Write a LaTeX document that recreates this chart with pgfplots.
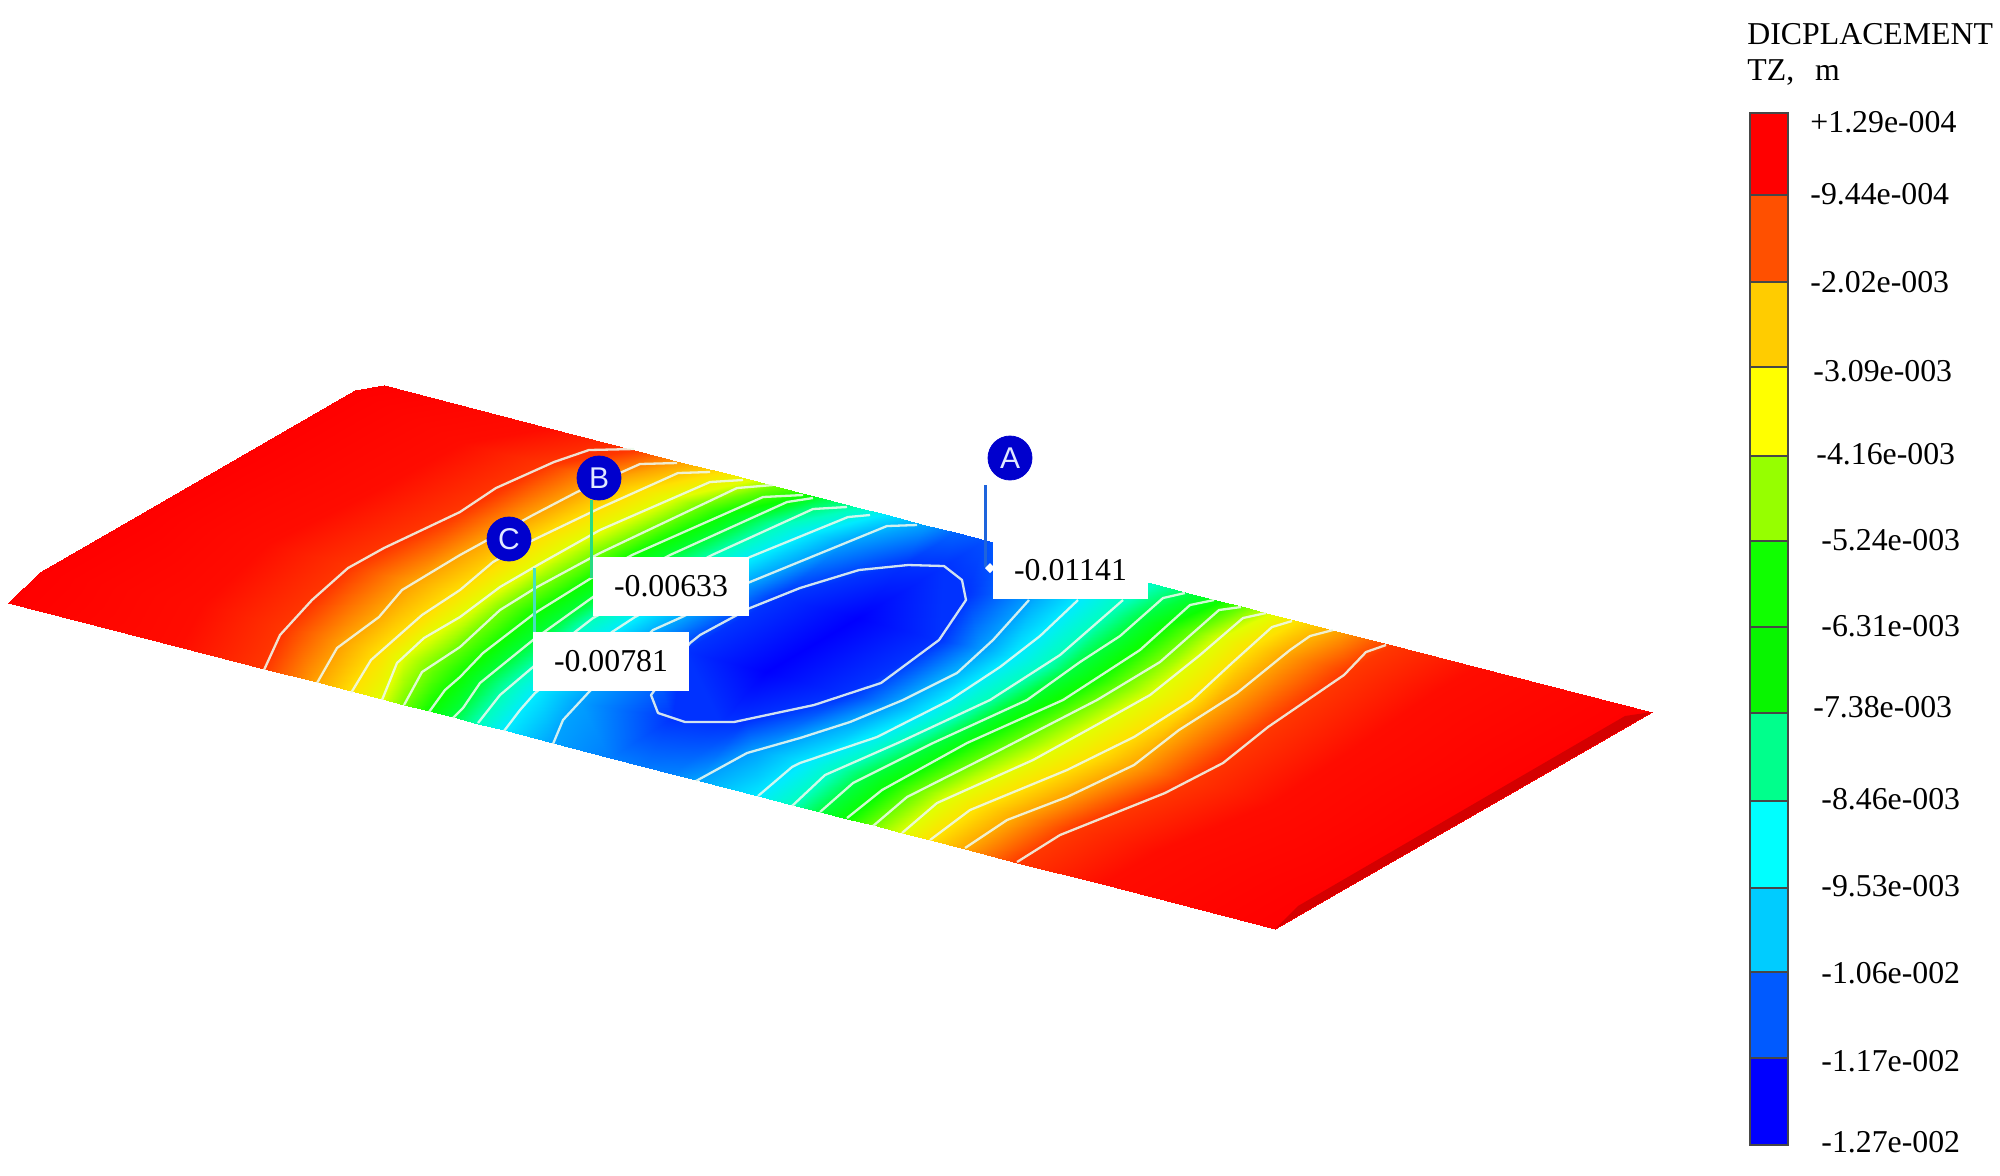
\documentclass[border=0pt]{standalone}
\usepackage{fontspec}
\usepackage{pgfplots}
\usepackage{pgfplotstable}
\pgfplotsset{compat=1.18}
\setmainfont{Liberation Serif}
\newfontfamily\lsans{Liberation Sans}
\newcommand\fs{\fontsize{15.9}{18}\selectfont}
% colour bar band: colour, top, bottom
\newcommand\band[3]{\addplot[fill=#1,draw=black!72,line width=1.1pt] coordinates {(1750,#2)(1788,#2)(1788,#3)(1750,#3)} --cycle;}
\newcommand\barlabel[3]{\node[anchor=west,inner sep=0pt,font=\fs] at (axis cs:#1,#2) {#3};}
\newcommand\callout[5]{%
 \addplot[fill=white,draw=none] coordinates {(#1,#2)(#3,#2)(#3,#4)(#1,#4)} --cycle;
 \node[font=\fs,inner sep=0pt] at (axis cs:{(#1+#3)/2},{(#2+#4)/2}) {#5};}
\definecolor{bevel}{RGB}{212,0,0}
\definecolor{line1}{RGB}{238,250,238}
\definecolor{b1}{RGB}{255,0,0}\definecolor{b2}{RGB}{255,80,0}\definecolor{b3}{RGB}{255,204,0}
\definecolor{b4}{RGB}{255,255,0}\definecolor{b5}{RGB}{150,255,0}\definecolor{b6}{RGB}{16,255,0}
\definecolor{b7}{RGB}{8,245,0}\definecolor{b8}{RGB}{0,255,140}\definecolor{b9}{RGB}{0,255,255}
\definecolor{b10}{RGB}{0,204,255}\definecolor{b11}{RGB}{0,90,255}\definecolor{b12}{RGB}{0,0,255}
\definecolor{dot}{RGB}{0,0,205}
\definecolor{letter}{RGB}{225,232,255}
% plate mesh, one group of six points per contour line, front edge to back edge
% m is TZ in mm
\pgfplotstableread{
x y m
8 603 0.129
40 572 0.129
144 512 0.129
239 457 0.129
355 390 0.129
384 385.3 0.129
179 647 -0.35
202 605 -0.35
267 544 -0.35
372 492 -0.35
462 443 -0.35
549 427.8 -0.35
264 668.5 -0.944
287 627 -0.944
352 566 -0.944
457 514 -0.944
547 465 -0.944
634 449.7 -0.944
317 682.1 -2.02
345 642 -2.02
415 582 -2.02
510 527 -2.02
604 480 -2.02
684 462.6 -2.02
351 690.9 -3.09
381 651 -3.09
456 593 -3.09
542 536 -3.09
641 490 -3.09
722 472.4 -3.09
382 698.9 -4.16
403 657 -4.16
483 600 -4.16
574 544 -4.16
674 498 -4.16
753 480.4 -4.16
404 704.5 -5.24
433 665 -5.24
507 606 -5.24
603 551 -5.24
701 505 -5.24
775 486 -5.24
429 711 -6.31
464 673 -6.31
535 613 -6.31
628 557 -6.31
729 512 -6.31
810 495 -6.31
453 717.2 -7.38
485 679 -7.38
561 620 -7.38
652 565 -7.38
752 518 -7.38
822 498.1 -7.38
478 723.6 -8.46
512 685 -8.46
583 625 -8.46
681 572 -8.46
779 525 -8.46
860 507.9 -8.46
504 730.3 -9.53
537 691 -9.53
611 633 -9.53
709 578 -9.53
810 533 -9.53
885 514.4 -9.53
553 742.9 -10.6
579 702 -10.6
643 640 -10.6
740 587 -10.6
847 542 -10.6
925 524.7 -10.6
610 757.6 -10.95
672 718 -11.7
684 651 -11.7
778 597 -11.7
903 565 -11.7
955 532.4 -11.2
645 766.6 -11.0
720 723 -11.7
766 672 -12.7
858 618 -12.7
944 566 -11.7
985 540.1 -11.41
672 773.6 -10.9
745 721 -11.7
848 694 -11.7
939 640 -11.7
966 595 -11.7
1020 549.2 -11.0
696 779.8 -10.6
755 751 -10.6
891 705 -10.6
983 649 -10.6
1037 591 -10.6
1065 560.8 -10.6
758 795.8 -9.53
808 761 -9.53
924 713 -9.53
1013 657 -9.53
1076 602 -9.53
1112 572.9 -9.53
792 804.5 -8.46
838 769 -8.46
949 719 -8.46
1045 665 -8.46
1111 610 -8.46
1155 584 -8.46
820 811.7 -7.38
867 776 -7.38
971 725 -7.38
1068 671 -7.38
1140 618 -7.38
1192 593.5 -7.38
847 818.7 -6.31
894 783 -6.31
994 731 -6.31
1096 678 -6.31
1167 625 -6.31
1220 600.7 -6.31
873 825.4 -5.24
920 790 -5.24
1022 739 -5.24
1122 685 -5.24
1194 632 -5.24
1245 607.1 -5.24
902 832.9 -4.16
949 797 -4.16
1056 747 -4.16
1153 693 -4.16
1220 638 -4.16
1270 613.6 -4.16
930 840.1 -3.09
981 806 -3.09
1094 757 -3.09
1189 702 -3.09
1250 647 -3.09
1298 620.8 -3.09
965 849.1 -2.02
1019 815 -2.02
1132 766 -2.02
1213 709 -2.02
1284 655 -2.02
1336 630.6 -2.02
1017 862.5 -0.944
1073 829 -0.944
1188 781 -0.944
1271 725 -0.944
1348 671 -0.944
1392 645 -0.944
1102 884.4 -0.35
1158 851 -0.35
1273 803 -0.35
1356 747 -0.35
1433 693 -0.35
1477 666.9 -0.35
1275 929 0.129
1332 896 0.129
1426 842 0.129
1520 788 0.129
1607 738 0.129
1652 712 0.129
}\plate
\begin{document}
\begin{tikzpicture}
\begin{axis}[
 scale only axis,width=1000pt,height=587.5pt,
 xmin=0,xmax=2000,ymin=0,ymax=1175,y dir=reverse,
 axis line style={draw=none},xtick=\empty,ytick=\empty,clip=false,
 point meta min=-12.7,point meta max=0.129,
 colormap={fem}{rgb255(0)=(0,0,255) rgb255(100)=(0,50,255) rgb255(210)=(0,160,255)
  rgb255(317)=(0,235,255) rgb255(424)=(0,255,190) rgb255(532)=(0,255,60)
  rgb255(639)=(10,255,0) rgb255(746)=(110,255,0) rgb255(854)=(225,255,0)
  rgb255(961)=(255,225,0) rgb255(1068)=(255,165,0) rgb255(1176)=(255,55,0)
  rgb255(1235)=(255,12,0) rgb255(1283)=(255,0,0)},
 every axis plot/.append style={mark=none},
 contour/.style={draw=line1,draw opacity=.88,line width=1.15pt,line join=round},
]
\addplot[surf,shader=interp,mesh/cols=6,point meta=explicit] table[x=x,y=y,meta=m] {\plate};
\addplot[fill=bevel,draw=none] coordinates {(1275,929)(1652,712)(1625,716)(1298,906)} --cycle;

% contour lines, left flank
\addplot[contour] coordinates {(264,670)(280,635)(312,600)(348,568)(384,548)(460,512)(496,488)(554,462)(589,450)(634,449)};
\addplot[contour] coordinates {(317,683)(337,648)(379,617)(402,590)(460,555)(533,515)(577,492)(622,472)(640,464)(677,463)};
\addplot[contour] coordinates {(351,693)(371,660)(422,615)(460,590)(493,562)(527,543)(600,508)(678,473)(710,472)};
\addplot[contour] coordinates {(382,700)(397,663)(424,638)(460,617)(500,587)(543,562)(600,530)(710,482)(743,480)};
\addplot[contour] coordinates {(404,705)(422,672)(460,647)(500,610)(537,587)(600,553)(737,488)(773,485)};
\addplot[contour] coordinates {(429,712)(445,690)(460,677)(483,653)(535,613)(593,577)(632,555)(763,497)(803,495)};
\addplot[contour] coordinates {(453,718)(463,708)(480,683)(533,640)(593,597)(670,555)(787,502)(813,498)};
\addplot[contour] coordinates {(478,723)(500,695)(533,667)(575,632)(593,618)(712,555)(813,509)(847,507)};
\addplot[contour] coordinates {(504,731)(520,710)(535,693)(612,632)(635,617)(750,557)(848,517)(870,515)};
\addplot[contour] coordinates {(553,744)(563,720)(588,693)(653,630)(682,617)(750,582)(887,526)(917,525)};
% closed line round the deepest part
\addplot[contour] coordinates {(690,643)(700,635)(750,608)(800,588)(859,570)(908,565)(944,566)(962,580)(966,600)(939,640)(881,683)(814,705)(734,722)(685,722)(658,713)(651,695)(690,643)};
% contour lines, right flank
\addplot[contour] coordinates {(696,781)(747,753)(800,738)(850,722)(903,700)(957,673)(993,640)(1029,600)};
\addplot[contour] coordinates {(758,796)(792,767)(800,763)(877,737)(950,700)(1000,667)(1040,636)(1078,600)};
\addplot[contour] coordinates {(792,806)(825,775)(900,742)(990,700)(1060,655)(1123,600)};
\addplot[contour] coordinates {(820,812)(853,783)(933,743)(1027,700)(1080,662)(1120,636)(1163,598)(1185,593)};
\addplot[contour] coordinates {(847,818)(882,790)(967,743)(1063,700)(1140,650)(1190,605)(1214,600)};
\addplot[contour] coordinates {(873,826)(907,797)(1000,750)(1097,700)(1160,662)(1219,610)(1241,607)};
\addplot[contour] coordinates {(902,833)(937,803)(1033,760)(1100,723)(1150,695)(1200,655)(1243,618)(1266,613)};
\addplot[contour] coordinates {(930,840)(970,810)(1067,770)(1134,737)(1192,700)(1232,663)(1272,627)(1292,621)};
\addplot[contour] coordinates {(965,848)(1007,820)(1067,797)(1134,765)(1179,730)(1237,693)(1290,650)(1310,636)(1333,630)};
\addplot[contour] coordinates {(1017,862)(1060,835)(1165,793)(1223,763)(1268,727)(1344,675)(1366,652)(1386,645)};

% probes
\addplot[draw={rgb,255:red,30;green,100;blue,220},line width=1.5pt] coordinates {(985,485)(985,567)};
\addplot[draw={rgb,255:red,40;green,220;blue,130},line width=1.5pt] coordinates {(591,500)(591,578)};
\addplot[draw={rgb,255:red,70;green,225;blue,190},line width=1.5pt] coordinates {(534,568)(534,632)};
\callout{593}{557}{749}{616}{-0.00633}
\callout{533}{632}{689}{691}{-0.00781}
\callout{993}{541}{1148}{599}{-0.01141}
\addplot[fill=white,draw=none] coordinates {(985,568)(990,563)(995,568)(990,573)} --cycle;
\addplot[only marks,mark=*,mark size=11pt,mark options={fill=dot,draw=dot},
 point meta=explicit symbolic,nodes near coords,
 every node near coord/.style={anchor=center,inner sep=0pt,text=letter,
  font=\lsans\fontsize{15}{18}\selectfont}]
 coordinates {(1010,458)[A] (599,478)[B] (509,539)[C]};

% colour bar
\band{b1}{113}{195}\band{b2}{195}{282}\band{b3}{282}{367}\band{b4}{367}{456}
\band{b5}{456}{541}\band{b6}{541}{627}\band{b7}{627}{713}\band{b8}{713}{801}
\band{b9}{801}{888}\band{b10}{888}{972}\band{b11}{972}{1058}\band{b12}{1058}{1145}
\barlabel{1810}{122}{+1.29e-004}
\barlabel{1810}{194}{-9.44e-004}
\barlabel{1810}{282}{-2.02e-003}
\barlabel{1813}{371}{-3.09e-003}
\barlabel{1816}{454}{-4.16e-003}
\barlabel{1821}{540}{-5.24e-003}
\barlabel{1821}{626}{-6.31e-003}
\barlabel{1813}{707}{-7.38e-003}
\barlabel{1821}{799}{-8.46e-003}
\barlabel{1821}{886}{-9.53e-003}
\barlabel{1821}{973}{-1.06e-002}
\barlabel{1821}{1061}{-1.17e-002}
\barlabel{1821}{1142}{-1.27e-002}
\barlabel{1747}{34}{DICPLACEMENT}
\barlabel{1747}{73}{TZ,\hspace{10.5pt}m}
\end{axis}
\end{tikzpicture}
\end{document}
